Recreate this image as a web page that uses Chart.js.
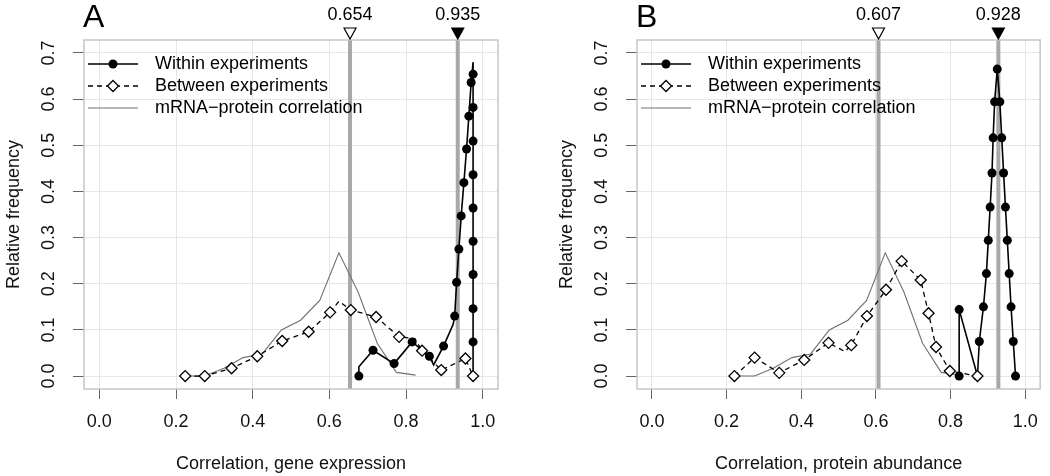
<!DOCTYPE html>
<html><head><meta charset="utf-8">
<script src="https://cdn.jsdelivr.net/npm/chart.js@4.4.1/dist/chart.umd.min.js"></script>
<style>
html,body{margin:0;padding:0;background:#fff;overflow:hidden;width:1050px;height:476px}
.panel{position:absolute;top:0;height:476px}
</style></head><body>
<div class="panel" style="left:0;width:525px"><canvas id="cA" width="525" height="476"></canvas></div>
<div class="panel" style="left:553px;width:497px"><canvas id="cB" width="497" height="476"></canvas></div>
<script>
// ---------- data ----------
const xTickValues = [0, 0.2, 0.4, 0.6, 0.8, 1.0];
const yTickValues = [0, 0.1, 0.2, 0.3, 0.4, 0.5, 0.6, 0.7];
const seriesNames = ['Within experiments', 'Between experiments', 'mRNA\u2212protein correlation'];
const panelLetters = ['A', 'B'];
const xTitles = ['Correlation, gene expression', 'Correlation, protein abundance'];
const yTitle = 'Relative frequency';

// mRNA-protein correlation (same in both panels)
const mrnaX = [0.225, 0.275, 0.325, 0.375, 0.425, 0.475, 0.525, 0.575, 0.625, 0.675, 0.725, 0.775, 0.825];
const mrnaY = [0.000, 0.000, 0.017, 0.040, 0.048, 0.100, 0.121, 0.164, 0.267, 0.182, 0.071, 0.008, 0.002];

// Panel A
const refA = [0.654, 0.935];
const withinAX = [0.677, 0.677, 0.714, 0.769, 0.816, 0.861, 0.872, 0.898, 0.923, 0.927, 0.932, 0.938, 0.944, 0.951, 0.958, 0.964, 0.970, 0.975, 0.975, 0.975, 0.975, 0.975, 0.975, 0.975, 0.975, 0.975, 0.975, 0.975];
const withinAY = [0.000, 0.020, 0.056, 0.027, 0.074, 0.043, 0.024, 0.065, 0.112, 0.130, 0.203, 0.275, 0.347, 0.419, 0.492, 0.563, 0.636, 0.680, 0.654, 0.582, 0.509, 0.436, 0.364, 0.292, 0.220, 0.146, 0.074, 0.000];
const withinABends = [1, 6, 8, 17, 27];
const betweenAX = [0.224, 0.275, 0.345, 0.412, 0.477, 0.546, 0.602, 0.625, 0.656, 0.722, 0.782, 0.823, 0.842, 0.892, 0.955, 0.975];
const betweenAY = [0.000, 0.000, 0.017, 0.043, 0.076, 0.096, 0.138, 0.162, 0.143, 0.128, 0.085, 0.081, 0.055, 0.013, 0.038, 0.000];
const betweenABends = [7, 11];

// Panel B
const refB = [0.607, 0.928];
const withinBX = [0.823, 0.823, 0.872, 0.877, 0.888, 0.896, 0.901, 0.906, 0.911, 0.914, 0.918, 0.925, 0.932, 0.937, 0.942, 0.947, 0.952, 0.957, 0.962, 0.968, 0.974];
const withinBY = [0.000, 0.144, 0.000, 0.075, 0.150, 0.222, 0.294, 0.366, 0.440, 0.516, 0.594, 0.665, 0.594, 0.516, 0.440, 0.366, 0.294, 0.222, 0.150, 0.075, 0.000];
const withinBBends = [];
const betweenBX = [0.221, 0.275, 0.341, 0.408, 0.473, 0.517, 0.534, 0.576, 0.627, 0.669, 0.720, 0.741, 0.761, 0.798, 0.872];
const betweenBY = [0.000, 0.040, 0.007, 0.035, 0.072, 0.053, 0.067, 0.130, 0.187, 0.249, 0.208, 0.136, 0.063, 0.011, 0.000];
const betweenBBends = [5];

// ---------- rendering ----------
const FONT = "'Liberation Sans', Arial, Helvetica, sans-serif";
Chart.defaults.font.family = FONT;

function pts(xs, ys) { return xs.map((x, i) => ({x: x, y: ys[i]})); }

function drawDiamond(ctx, cx, cy, r) {
  ctx.beginPath();
  ctx.moveTo(cx, cy - r); ctx.lineTo(cx + r, cy); ctx.lineTo(cx, cy + r); ctx.lineTo(cx - r, cy); ctx.closePath();
  ctx.fillStyle = '#fff'; ctx.fill();
  ctx.lineWidth = 1.3; ctx.strokeStyle = '#000'; ctx.stroke();
}

function makeChart(id, p) {
  const decor = {
    id: 'decor' + id,
    beforeDatasetsDraw(chart) {
      const {ctx, chartArea: a, scales: {x}} = chart;
      ctx.save();
      ctx.strokeStyle = '#a8a8a8'; ctx.lineWidth = 4;
      p.refs.forEach(v => {
        const px = x.getPixelForValue(v);
        ctx.beginPath(); ctx.moveTo(px, a.top); ctx.lineTo(px, a.bottom); ctx.stroke();
      });
      ctx.restore();
    },
    afterDraw(chart) {
      const {ctx, chartArea: a, scales: {x}} = chart;
      ctx.save();
      // box
      ctx.strokeStyle = '#c6c6c6'; ctx.lineWidth = 1.5;
      ctx.strokeRect(a.left, a.top, a.right - a.left, a.bottom - a.top);
      // reference markers
      p.refs.forEach((v, i) => {
        const px = x.getPixelForValue(v);
        ctx.beginPath();
        ctx.moveTo(px - 6, a.top - 12); ctx.lineTo(px + 6, a.top - 12); ctx.lineTo(px, a.top - 1); ctx.closePath();
        ctx.fillStyle = i === 1 ? '#000' : '#fff'; ctx.fill();
        ctx.lineWidth = 1.2; ctx.strokeStyle = '#000'; ctx.stroke();
        ctx.fillStyle = '#000'; ctx.font = '18px ' + FONT;
        ctx.textAlign = 'center'; ctx.textBaseline = 'middle';
        ctx.fillText(v.toFixed(3), px, 15);
      });
      // panel letter
      ctx.fillStyle = '#000'; ctx.font = '32px ' + FONT;
      ctx.textAlign = 'left'; ctx.textBaseline = 'alphabetic';
      ctx.fillText(p.letter, a.left - 1, 27);
      // legend
      const l0 = a.left + 4, l1 = a.left + 54, lm = a.left + 29, tx = a.left + 71;
      const ry = [a.top + 24, a.top + 46, a.top + 68];
      // within
      ctx.setLineDash([]); ctx.strokeStyle = '#000'; ctx.lineWidth = 1.6;
      ctx.beginPath(); ctx.moveTo(l0, ry[0]); ctx.lineTo(l1, ry[0]); ctx.stroke();
      ctx.beginPath(); ctx.arc(lm, ry[0], 4.5, 0, Math.PI * 2); ctx.fillStyle = '#000'; ctx.fill();
      // between
      ctx.setLineDash([5, 4]); ctx.lineWidth = 1.3;
      ctx.beginPath(); ctx.moveTo(l0, ry[1]); ctx.lineTo(l1, ry[1]); ctx.stroke();
      ctx.setLineDash([]);
      drawDiamond(ctx, lm, ry[1], 5.5);
      // mRNA
      ctx.strokeStyle = '#707070'; ctx.lineWidth = 1.1;
      ctx.beginPath(); ctx.moveTo(l0, ry[2]); ctx.lineTo(l1, ry[2]); ctx.stroke();
      ctx.fillStyle = '#000'; ctx.font = '18px ' + FONT; ctx.textAlign = 'left'; ctx.textBaseline = 'middle';
      seriesNames.forEach((n, i) => ctx.fillText(n, tx, ry[i]));
      ctx.restore();
    }
  };

  const tickFont = {size: 18, family: FONT};
  return new Chart(document.getElementById(id), {
    type: 'scatter',
    data: {
      datasets: [
        { label: seriesNames[1], data: pts(p.betweenX, p.betweenY), showLine: true,
          borderColor: '#000', borderWidth: 1.3, borderDash: [5, 4],
          pointStyle: 'rectRot', pointRadius: c => p.betweenBends.includes(c.dataIndex) ? 0 : 5.5,
          pointBackgroundColor: '#fff', pointBorderColor: '#000', pointBorderWidth: 1.3, order: 1 },
        { label: seriesNames[0], data: pts(p.withinX, p.withinY), showLine: true,
          borderColor: '#000', borderWidth: 1.6,
          pointStyle: 'circle', pointRadius: c => p.withinBends.includes(c.dataIndex) ? 0 : 4.5,
          pointBackgroundColor: '#000', pointBorderColor: '#000', pointBorderWidth: 0, order: 2 },
        { label: seriesNames[2], data: pts(mrnaX, mrnaY), showLine: true,
          borderColor: '#707070', borderWidth: 1.1, pointRadius: 0, order: 3 }
      ]
    },
    options: {
      responsive: false, animation: false, devicePixelRatio: 1, events: [],
      layout: {padding: {top: 40, right: p.padRight, left: 0, bottom: 0}},
      plugins: {legend: {display: false}, tooltip: {enabled: false}},
      elements: {line: {tension: 0}},
      scales: {
        x: {
          type: 'linear', min: -0.04, max: 1.04,
          afterBuildTicks: s => { s.ticks = xTickValues.map(v => ({value: v})); },
          afterFit: s => { s.height = 87; },
          ticks: {font: tickFont, color: '#111', padding: 12, autoSkip: false, maxRotation: 0, minRotation: 0,
                  callback: v => Number(v).toFixed(1)},
          grid: {color: '#e6e6e6', lineWidth: 1, drawTicks: true, tickLength: 10, tickColor: '#666', tickWidth: 1},
          border: {display: false},
          title: {display: true, text: p.xTitle, font: tickFont, color: '#111', padding: {top: 0, bottom: 1}}
        },
        y: {
          type: 'linear', min: -0.028, max: 0.728,
          afterBuildTicks: s => { s.ticks = yTickValues.map(v => ({value: v})); },
          afterFit: s => { s.width = 84; },
          ticks: {font: tickFont, color: '#111', padding: 11, autoSkip: false, minRotation: 90, maxRotation: 90,
                  crossAlign: 'center', callback: v => Number(v).toFixed(1)},
          grid: {color: '#e6e6e6', lineWidth: 1, drawTicks: true, tickLength: 11, tickColor: '#666', tickWidth: 1},
          border: {display: false},
          title: {display: true, text: yTitle, font: tickFont, color: '#111', padding: {top: 3, bottom: 0}}
        }
      }
    },
    plugins: [decor]
  });
}

makeChart('cA', {letter: panelLetters[0], xTitle: xTitles[0], refs: refA, padRight: 27,
  withinX: withinAX, withinY: withinAY, withinBends: withinABends,
  betweenX: betweenAX, betweenY: betweenAY, betweenBends: betweenABends});
makeChart('cB', {letter: panelLetters[1], xTitle: xTitles[1], refs: refB, padRight: 1,
  withinX: withinBX, withinY: withinBY, withinBends: withinBBends,
  betweenX: betweenBX, betweenY: betweenBY, betweenBends: betweenBBends});
</script>
</body></html>
